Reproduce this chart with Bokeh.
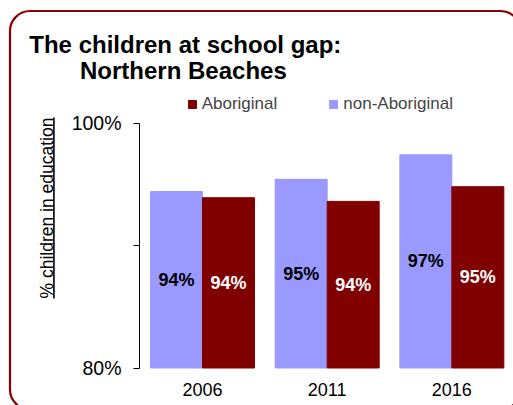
from bokeh.plotting import figure
from bokeh.models import (Range1d, FixedTicker, Label, BoxAnnotation,
                          ColumnDataSource, Legend, LegendItem)
from bokeh.transform import dodge
from bokeh.core.properties import value
from bokeh.embed import file_html
from bokeh.resources import INLINE
import math

# ---- data ----
years = ["2006", "2011", "2016"]
non_aboriginal = [94.4, 95.4, 97.4]
aboriginal = [93.9, 93.6, 94.8]
non_aboriginal_labels = ["94%", "95%", "97%"]
aboriginal_labels = ["94%", "94%", "95%"]
y_ticks = [80, 90, 100]
y_tick_labels = ["80%", "", "100%"]
title_line1 = "The children at school gap:"
title_line2 = "Northern Beaches"
y_label = "% children in education"

LIGHT = "#9999FF"
DARK = "#800000"
FRAME = "#8B0000"
FONT = "Liberation Sans"

# ---- layout (canvas is 513 x 405, plot frame fills it) ----
CW, CH = 513, 405
CAT_PX = 124.67          # pixels per category
CAT0_PX = 202.0          # pixel x of first category centre
Y80_PX, Y100_PX = 367.5, 122.5
PX_PER_PCT = (Y80_PX - Y100_PX) / 20.0

x_start = -CAT0_PX / CAT_PX
x_end = (CW - CAT0_PX) / CAT_PX
y_start = 80 - (CH - Y80_PX) / PX_PER_PCT
y_end = 100 + Y100_PX / PX_PER_PCT


def X(px):
    return x_start + px / CW * (x_end - x_start)


def Y(py):
    return y_end - py / CH * (y_end - y_start)


pos = list(range(len(years)))
src = ColumnDataSource(dict(
    pos=pos,
    non=non_aboriginal,
    abo=aboriginal,
    non_mid=[(80 + v) / 2 for v in non_aboriginal],
    abo_mid=[(80 + v) / 2 for v in aboriginal],
    non_lab=non_aboriginal_labels,
    abo_lab=aboriginal_labels,
))

p = figure(width=CW, height=CH, x_range=Range1d(x_start, x_end),
           y_range=Range1d(y_start, y_end), output_backend="svg", toolbar_location=None,
           min_border=0, min_border_left=0, min_border_right=0,
           min_border_top=0, min_border_bottom=0)
p.title.visible = False
p.outline_line_color = None
p.xgrid.grid_line_color = None
p.ygrid.grid_line_color = None
p.background_fill_color = "white"
p.border_fill_color = "white"

W = 52.0 / CAT_PX
OFF = W / 2
r_non = p.vbar(x=dodge("pos", -OFF), top="non", bottom=80, width=W,
               source=src, fill_color=LIGHT, line_color=LIGHT)
r_abo = p.vbar(x=dodge("pos", OFF), top="abo", bottom=80, width=W,
               source=src, fill_color=DARK, line_color=DARK)

p.text(x=dodge("pos", -OFF), y="non_mid", text="non_lab", source=src,
       text_align="center", text_baseline="middle", text_font=value(FONT),
       text_font_style="bold", text_font_size="18px", text_color="black")
p.text(x=dodge("pos", OFF), y="abo_mid", text="abo_lab", source=src,
       text_align="center", text_baseline="middle", text_font=value(FONT),
       text_font_style="bold", text_font_size="18px", text_color="white")

# axes (drawn at fixed locations inside the frame)
ya = p.yaxis[0]
ya.fixed_location = X(139)
ya.bounds = (80, 100)
ya.ticker = FixedTicker(ticks=y_ticks)
ya.major_label_overrides = {t: l for t, l in zip(y_ticks, y_tick_labels)}
ya.minor_tick_line_color = None
ya.major_tick_in = 0
ya.major_tick_out = 6
ya.major_label_standoff = 12
ya.major_label_text_font = FONT
ya.major_label_text_font_size = "19.5px"
ya.major_label_text_color = "black"
ya.axis_line_color = "black"
ya.major_tick_line_color = "black"

xa = p.xaxis[0]
xa.fixed_location = 80
xa.ticker = FixedTicker(ticks=pos)
xa.major_label_overrides = {i: y for i, y in zip(pos, years)}
xa.axis_line_color = None
xa.major_tick_line_color = None
xa.minor_tick_line_color = None
xa.major_tick_in = 0
xa.major_tick_out = 0
xa.major_label_standoff = 15
xa.major_label_text_font = FONT
xa.major_label_text_font_size = "18px"
xa.major_label_text_color = "black"

# legend
legend = Legend(items=[LegendItem(label="Aboriginal", renderers=[r_abo]),
                       LegendItem(label="non-Aboriginal", renderers=[r_non])],
                location=(186.7, CH - 113.5), orientation="horizontal",
                border_line_color=None, background_fill_alpha=0,
                padding=0, margin=0, spacing=51, glyph_width=10, glyph_height=10,
                label_standoff=5, label_height=20,
                label_text_font=FONT, label_text_font_size="17px")
p.add_layout(legend, "center")

# titles
p.add_layout(Label(x=X(28.8), y=Y(43.5), text=title_line1,
                   text_font=FONT, text_font_style="bold", text_font_size="24px",
                   text_baseline="alphabetic", text_color="black"))
p.add_layout(Label(x=X(79.5), y=Y(70.2), text=title_line2,
                   text_font=FONT, text_font_style="bold", text_font_size="24px",
                   text_baseline="alphabetic", text_color="black"))

# y axis title (underlined)
p.add_layout(Label(x=X(46.3), y=Y(207.5), text=y_label,
                   angle=math.pi / 2, text_align="center", text_baseline="alphabetic",
                   text_font=FONT, text_font_size="17.5px", text_color="black"))
p.add_layout(BoxAnnotation(left=X(52.6), right=X(54.2), top=Y(117), bottom=Y(298),
                           fill_color="black", fill_alpha=1, line_color=None))

# rounded frame
p.add_layout(BoxAnnotation(left=X(9.5), right=X(520), top=Y(10.5), bottom=Y(409),
                           fill_alpha=0, line_color=FRAME, line_alpha=1, line_width=2.2,
                           border_radius=20))

open("out.html", "w").write(file_html(p, INLINE))
